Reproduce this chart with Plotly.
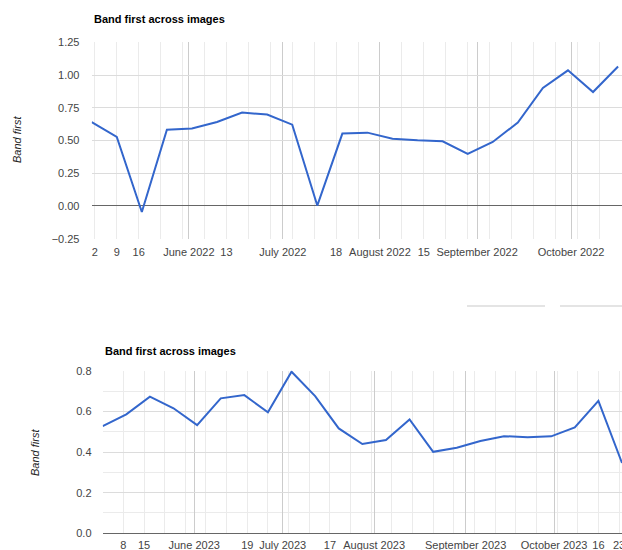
import plotly.graph_objects as go

# ---- data ----
dates_2022 = ["2022-05-01", "2022-05-09", "2022-05-17", "2022-05-25", "2022-06-02",
              "2022-06-10", "2022-06-18", "2022-06-26", "2022-07-04", "2022-07-12",
              "2022-07-20", "2022-07-28", "2022-08-05", "2022-08-13", "2022-08-21",
              "2022-08-29", "2022-09-06", "2022-09-14", "2022-09-22", "2022-09-30",
              "2022-10-08", "2022-10-16"]
values_2022 = [0.641, 0.527, -0.046, 0.583, 0.591, 0.641, 0.713, 0.698, 0.621, 0.003,
               0.553, 0.560, 0.514, 0.501, 0.494, 0.397, 0.489, 0.637, 0.901, 1.036,
               0.870, 1.065]

dates_2023 = ["2023-05-01", "2023-05-09", "2023-05-17", "2023-05-25", "2023-06-02",
              "2023-06-10", "2023-06-18", "2023-06-26", "2023-07-04", "2023-07-12",
              "2023-07-20", "2023-07-28", "2023-08-05", "2023-08-13", "2023-08-21",
              "2023-08-29", "2023-09-06", "2023-09-14", "2023-09-22", "2023-09-30",
              "2023-10-08", "2023-10-16", "2023-10-24"]
values_2023 = [0.527, 0.585, 0.672, 0.615, 0.532, 0.664, 0.680, 0.595, 0.795, 0.675,
               0.516, 0.439, 0.459, 0.560, 0.401, 0.421, 0.454, 0.478, 0.473, 0.477,
               0.521, 0.652, 0.346]

tick_dates_2022 = ["2022-05-02", "2022-05-09", "2022-05-16", "2022-06-01", "2022-06-13",
                   "2022-07-01", "2022-07-18", "2022-08-01", "2022-08-15", "2022-09-01",
                   "2022-10-01"]
tick_labels_2022 = ["2", "9", "16", "June 2022", "13", "July 2022", "18", "August 2022",
                    "15", "September 2022", "October 2022"]
month_lines_2022 = ["2022-06-01", "2022-07-01", "2022-08-01", "2022-09-01", "2022-10-01"]

tick_dates_2023 = ["2023-05-08", "2023-05-15", "2023-06-01", "2023-06-19", "2023-07-01",
                   "2023-07-17", "2023-08-01", "2023-09-01", "2023-10-01", "2023-10-16",
                   "2023-10-23"]
tick_labels_2023 = ["8", "15", "June 2023", "19", "July 2023", "17", "August 2023",
                    "September 2023", "October 2023", "16", "23"]
month_lines_2023 = ["2023-06-01", "2023-07-01", "2023-08-01", "2023-09-01", "2023-10-01"]

title_text = "Band first across images"
y_title = "Band first"

# ---- styles ----
W, H = 622, 550
FONT = "Liberation Sans, Arial, sans-serif"
LINE = "#3366cc"
WEEK_GRID = "#ebebeb"
MONTH_GRID = "#cccccc"
Y_GRID = "#dcdcdc"
Y_MINOR = "#ebebeb"
TICK_COL = "#444444"
WEEK = 7 * 86400000

def px_x(p):
    return p / W

def px_y(p):
    return 1 - p / H

range1 = ["2022-05-01", "2022-10-17 06:00"]
range2 = ["2023-05-01", "2023-10-24"]

fig = go.Figure()
fig.add_trace(go.Scatter(x=dates_2022, y=values_2022, mode="lines",
                         line=dict(color=LINE, width=2), xaxis="x", yaxis="y",
                         showlegend=False, hoverinfo="x+y"))
fig.add_trace(go.Scatter(x=dates_2023, y=values_2023, mode="lines",
                         line=dict(color=LINE, width=2), xaxis="x2", yaxis="y2",
                         showlegend=False, hoverinfo="x+y"))
# empty traces to host the label axes
fig.add_trace(go.Scatter(x=[], y=[], xaxis="x3", yaxis="y", showlegend=False))
fig.add_trace(go.Scatter(x=[], y=[], xaxis="x4", yaxis="y2", showlegend=False))

d1x = [px_x(91.7), 1.0]
d1y = [px_y(238.7), px_y(42.3)]
d2x = [px_x(102.7), 1.0]
d2y = [px_y(533.3), px_y(370.7)]

common_grid_x = dict(type="date", showticklabels=False, ticks="", automargin=False,
                     showgrid=True, gridcolor=MONTH_GRID, gridwidth=1,
                     zeroline=False, showline=False, fixedrange=True)

label_axis = dict(type="date", tickmode="array", showgrid=False, zeroline=False,
                  showline=False, side="bottom", ticks="outside",
                  tickcolor="rgba(0,0,0,0)", automargin=False,
                  ticklabeloverflow="allow",
                  tickfont=dict(family=FONT, size=11, color=TICK_COL), fixedrange=True)

fig.update_layout(
    template="none",
    width=W, height=H,
    margin=dict(l=0, r=0, t=0, b=0, pad=0, autoexpand=False),
    paper_bgcolor="white", plot_bgcolor="white",
    font=dict(family=FONT, size=11, color=TICK_COL),
    showlegend=False,
    xaxis=dict(domain=d1x, anchor="y", range=range1, tickmode="array",
               tickvals=month_lines_2022,
               minor=dict(dtick=WEEK, tick0="2022-05-02", showgrid=True,
                          gridcolor=WEEK_GRID, gridwidth=1, ticks=""),
               **common_grid_x),
    xaxis3=dict(overlaying="x", anchor="y", range=range1,
                tickvals=tick_dates_2022, ticktext=tick_labels_2022, ticklen=3,
                **label_axis),
    yaxis=dict(domain=d1y, anchor="x", range=[-0.25, 1.25], tickmode="linear",
               tick0=-0.25, dtick=0.25, tickformat=".2f", automargin=False,
               showgrid=True, gridcolor=Y_GRID, gridwidth=1,
               zeroline=True, zerolinecolor="#666666", zerolinewidth=1,
               showline=False, ticks="outside", ticklen=9, tickcolor="rgba(0,0,0,0)",
               tickfont=dict(family=FONT, size=11, color=TICK_COL), fixedrange=True),
    xaxis2=dict(domain=d2x, anchor="y2", range=range2, tickmode="array",
                tickvals=month_lines_2023,
                minor=dict(dtick=WEEK, tick0="2023-05-01", showgrid=True,
                           gridcolor=WEEK_GRID, gridwidth=1, ticks=""),
                **common_grid_x),
    xaxis4=dict(overlaying="x2", anchor="y2", range=range2,
                tickvals=tick_dates_2023, ticktext=tick_labels_2023, ticklen=1,
                **label_axis),
    yaxis2=dict(domain=d2y, anchor="x2", range=[0, 0.8], tickmode="linear",
                tick0=0, dtick=0.2, tickformat=".1f", automargin=False,
                showgrid=True, gridcolor=Y_GRID, gridwidth=1,
                minor=dict(dtick=0.1, tick0=0, showgrid=True, gridcolor=Y_MINOR,
                           gridwidth=1, ticks=""),
                zeroline=True, zerolinecolor="#666666", zerolinewidth=1,
                showline=False, ticks="outside", ticklen=8, tickcolor="rgba(0,0,0,0)",
                tickfont=dict(family=FONT, size=11, color=TICK_COL), fixedrange=True),
)

annotations = [
    dict(text="<b>" + title_text + "</b>", x=px_x(91.7), y=px_y(19), xref="paper",
         yref="paper", xanchor="left", yanchor="middle", showarrow=False,
         font=dict(family=FONT, size=11, color="#000000")),
    dict(text="<b>" + title_text + "</b>", x=px_x(102.7), y=px_y(351), xref="paper",
         yref="paper", xanchor="left", yanchor="middle", showarrow=False,
         font=dict(family=FONT, size=11, color="#000000")),
    dict(text="<i>" + y_title + "</i>", x=px_x(17), y=px_y(140), xref="paper",
         yref="paper", xanchor="center", yanchor="middle", showarrow=False,
         textangle=-90, font=dict(family=FONT, size=11, color="#222222")),
    dict(text="<i>" + y_title + "</i>", x=px_x(35), y=px_y(453), xref="paper",
         yref="paper", xanchor="center", yanchor="middle", showarrow=False,
         textangle=-90, font=dict(family=FONT, size=11, color="#222222")),
]
fig.update_layout(annotations=annotations)

# faint toolbar-like bars between the two charts
fig.update_layout(shapes=[
    dict(type="line", xref="paper", yref="paper", x0=px_x(467), x1=px_x(545),
         y0=px_y(306), y1=px_y(306), line=dict(color="#e4e4e4", width=2)),
    dict(type="line", xref="paper", yref="paper", x0=px_x(560), x1=1.0,
         y0=px_y(306), y1=px_y(306), line=dict(color="#e4e4e4", width=2)),
])

fig.write_html(
    "out.html",
    config={"displayModeBar": False},
    post_script=("document.body.style.margin='0';document.body.style.padding='0';"
                 "document.documentElement.style.overflow='hidden';"
                 "document.body.style.overflow='hidden';"),
)
